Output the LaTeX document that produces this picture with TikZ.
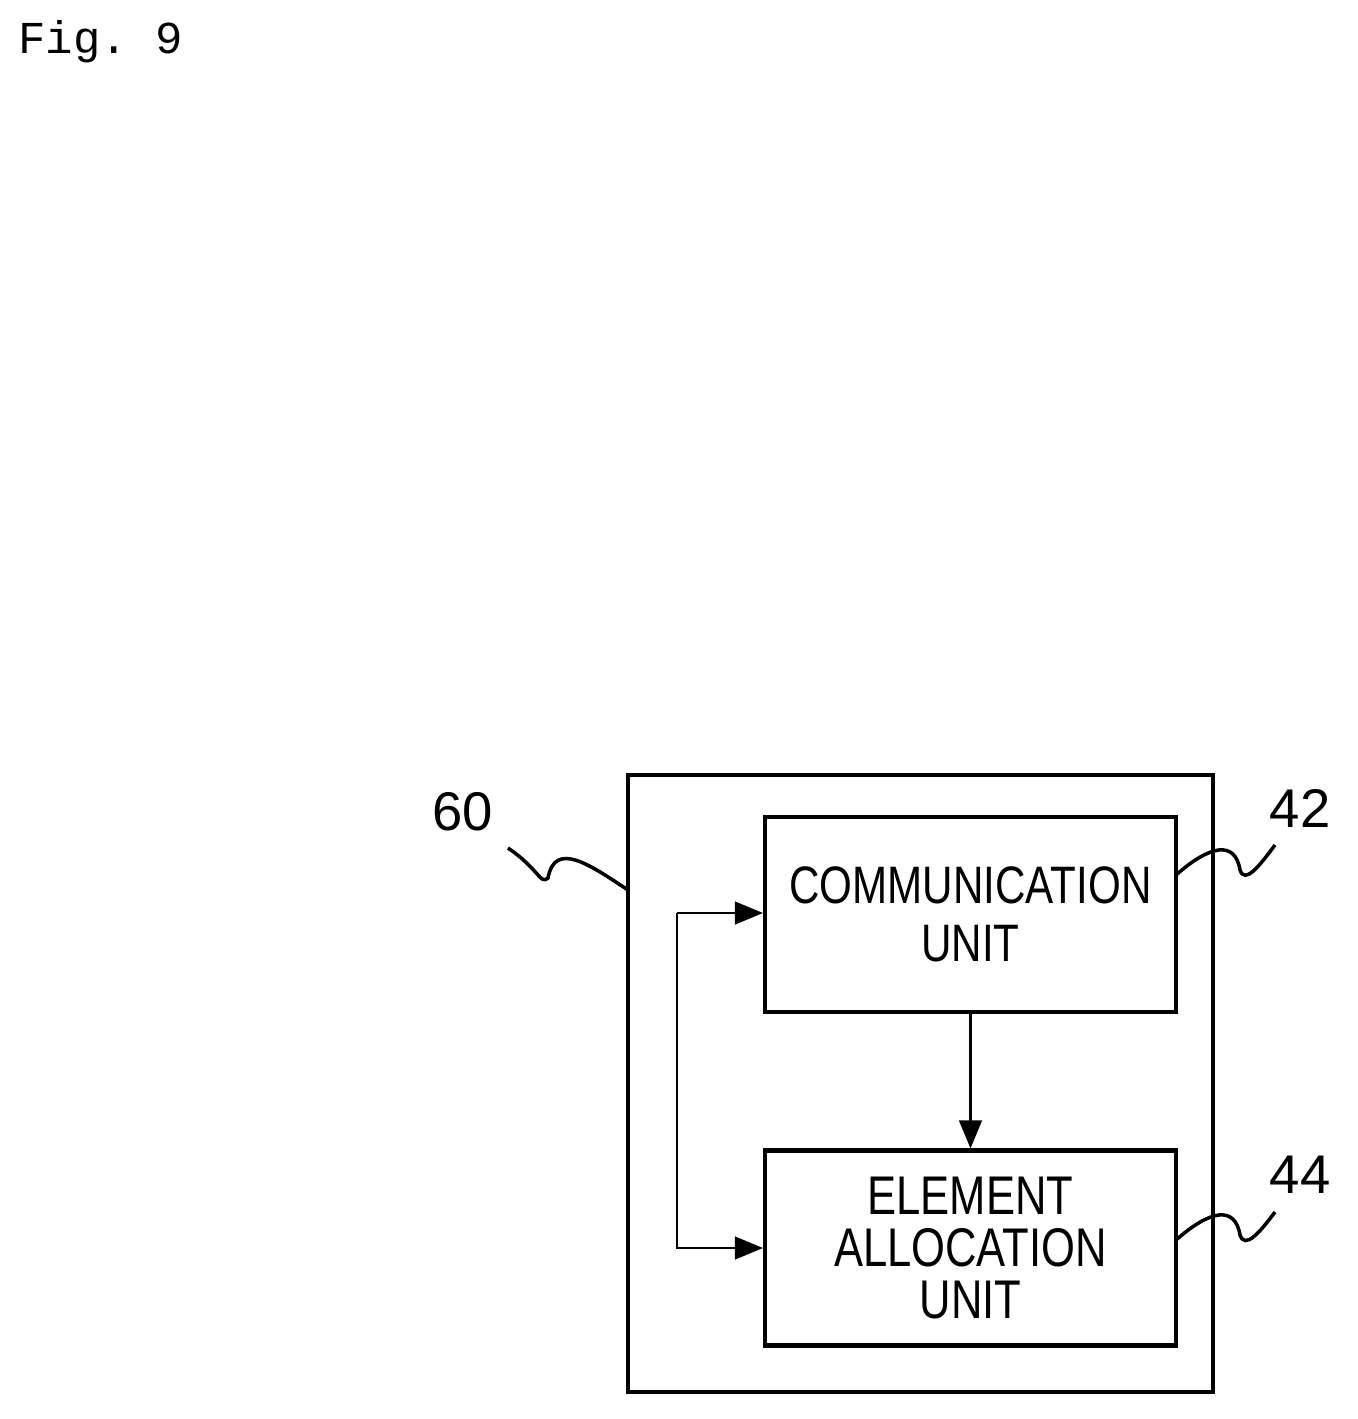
\documentclass[tikz,border=0pt]{standalone}
\usepackage{fontspec}
\setmainfont{Liberation Sans}
\newfontfamily\narrowfont[FakeStretch=0.8]{Liberation Sans}
\setmonofont{Liberation Mono}
\usetikzlibrary{arrows.meta}
\tikzset{
  unit/.style={draw, line width=2.4pt, minimum width=8.22cm, minimum height=3.9cm, align=center, font=\narrowfont\fontsize{30}{33}\selectfont, inner sep=0pt},
  refnum/.style={font=\fontsize{31}{31}\selectfont},
  flow/.style={line width=1.2pt, -{Triangle[length=16pt, width=13pt]}},
  wave/.style={line width=2pt}
}
\begin{document}
\begin{tikzpicture}[x=0.02cm, y=-0.02cm]
  \useasboundingbox (0,0) rectangle (1358,1419);
  % title
  \node[anchor=north west, font=\ttfamily\fontsize{26}{26}\selectfont, inner sep=0pt] (fig) at (18,20) {Fig. 9};
  % outer device
  \node[draw, line width=2.6pt, minimum width=11.7cm, minimum height=12.34cm] (dev) at (920.5,1083.5) {};
  % units
  \node[unit] (comm) at (970.5,914.5) {COMMUNICATION\\UNIT};
  \node[unit, font=\narrowfont\fontsize{31}{29.5}\selectfont] (alloc) at (970.5,1248) {ELEMENT\\ALLOCATION\\UNIT};
  % connectors
  \draw[flow] (comm.south) -- (alloc.north);
  \coordinate (top) at (677,913);
  \coordinate (bot) at (677,1248);
  \draw[flow] (top) -- (comm.west |- top);
  \draw[flow] (top) -- (bot) -- (alloc.west);
  % reference numerals
  \node[refnum] (n60) at (463,812) {60};
  \node[refnum] (n42) at (1300,808) {42};
  \node[refnum] (n44) at (1300,1175) {44};
  \draw[wave] (508,848) .. controls (540,870) and (540,885) .. (548,878)
     .. controls (555,840) and (590,865) .. (628,890);
  \draw[wave] (1176,875) .. controls (1210,845) and (1235,840) .. (1240,870)
     .. controls (1245,885) and (1260,865) .. (1275,845);
  \draw[wave] (1176,1240) .. controls (1210,1210) and (1235,1205) .. (1240,1235)
     .. controls (1245,1250) and (1260,1232) .. (1275,1212);
\end{tikzpicture}
\end{document}
